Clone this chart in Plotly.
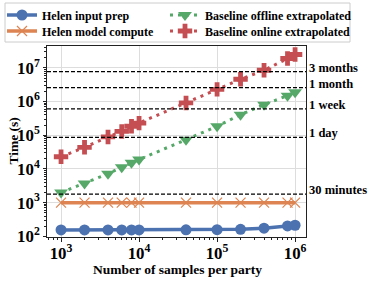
import math
import plotly.graph_objects as go

samples = [1e3, 2e3, 4e3, 6e3, 8e3, 1e4, 4e4, 1e5, 2e5, 4e5, 8e5, 1e6]
input_prep = [155, 155, 155, 155, 155, 155, 156, 157, 162, 174, 203, 213]
model_compute = [1000] * 12
offline = [2000, 3700, 7200, 11200, 15300, 19000, 74000, 185000, 410000, 810000, 1.5e6, 1.9e6]
online = [23000, 44000, 89000, 130000, 185000, 230000, 910000, 2.3e6, 4.6e6, 8.5e6, 1.9e7, 2.5e7]
thresholds = [1800, 86400, 604800, 2592000, 7776000]
threshold_labels = ["30 minutes", "1 day", "1 week", "1 month", "3 months"]

BLUE = "#4C72B0"
ORANGE = "#DD8452"
GREEN = "#55A868"
RED = "#C44E52"
FONT = "Liberation Serif"

W, H = 374, 281
L, R, T, B = 47, 306, 46, 237   # plot area in px
PW, PH = R - L, B - T


def px_x(p):
    return (p - L) / PW


def px_y(p):
    return (B - p) / PH


fig = go.Figure()
fig.add_trace(go.Scatter(x=samples, y=model_compute, name="Helen model compute", mode="lines+markers",
                         line=dict(color=ORANGE, width=3.5),
                         marker=dict(symbol="x-thin", size=10, line=dict(color=ORANGE, width=1.2)),
                         legend="legend2"))
fig.add_trace(go.Scatter(x=samples, y=input_prep, name="Helen input prep", mode="lines+markers",
                         line=dict(color=BLUE, width=3.5),
                         marker=dict(symbol="circle", size=11, color=BLUE),
                         legend="legend"))
fig.add_trace(go.Scatter(x=samples, y=offline, name="Baseline offline extrapolated", mode="lines+markers",
                         line=dict(color=GREEN, width=3, dash="3px,5px"),
                         marker=dict(symbol="triangle-down", size=12, color=GREEN),
                         legend="legend3"))
fig.add_trace(go.Scatter(x=samples, y=online, name="Baseline online extrapolated", mode="lines+markers",
                         line=dict(color=RED, width=3, dash="3px,5px"),
                         marker=dict(symbol="cross", size=12, color=RED),
                         legend="legend4"))

for v, lab in zip(thresholds, threshold_labels):
    fig.add_shape(type="line", xref="paper", x0=0, x1=1, yref="y", y0=v, y1=v,
                  line=dict(color="black", width=1.2, dash="4px,2px"))
    fig.add_annotation(x=1, xref="paper", y=math.log10(v), yref="y", text=lab, showarrow=False,
                       xanchor="left", yanchor="middle", yshift=4, xshift=1,
                       font=dict(family=FONT, size=12.5, color="black", weight="bold"))

# legend frame
fig.add_shape(type="rect", xref="paper", yref="paper", x0=px_x(5), x1=px_x(350), y0=px_y(42), y1=px_y(3),
              line=dict(color="#cccccc", width=1), fillcolor="rgba(255,255,255,0.8)", layer="below")

# axis titles
fig.add_annotation(x=px_x(13), y=0.5, xref="paper", yref="paper", text="Time (s)", textangle=-90,
                   showarrow=False, xanchor="center", yanchor="middle",
                   font=dict(family=FONT, size=13.5, color="black", weight="bold"))
fig.add_annotation(x=px_x(177), y=px_y(269), xref="paper", yref="paper", text="Number of samples per party",
                   showarrow=False, xanchor="center", yanchor="middle",
                   font=dict(family=FONT, size=13.5, color="black", weight="bold"))

axis_common = dict(type="log", dtick=1, exponentformat="power", showline=True, linecolor="#222",
                   linewidth=1, mirror=True, ticks="outside", ticklen=3.5, tickcolor="#222",
                   showgrid=True, gridcolor="#dddddd", gridwidth=1, zeroline=False, automargin=False,
                   minor=dict(ticks="outside", ticklen=2, tickcolor="#222", showgrid=False),
                   tickfont=dict(family=FONT, size=13.5, color="black", weight="bold"))

leg_font = dict(family=FONT, size=12, color="black", weight="bold")


def leg(xp, yp):
    return dict(x=px_x(xp), y=px_y(yp), xanchor="left", yanchor="middle", bgcolor="rgba(0,0,0,0)",
                itemwidth=30, font=leg_font)


fig.update_layout(
    width=W, height=H,
    margin=dict(l=L, r=W - R, t=T, b=H - B, autoexpand=False),
    plot_bgcolor="white", paper_bgcolor="white",
    font=dict(family=FONT, size=13, color="black", weight="bold"),
    showlegend=True,
    xaxis=dict(axis_common, range=[2.82, 6.14], ticklabelstandoff=-2),
    yaxis=dict(axis_common, range=[1.98, 7.65]),
    legend=leg(2, 15),
    legend2=leg(2, 31),
    legend3=leg(165, 15),
    legend4=leg(165, 31),
)

fig.write_html("out.html", config={"displayModeBar": False},
               post_script="document.body.style.margin='0';document.body.style.overflow='hidden';")
